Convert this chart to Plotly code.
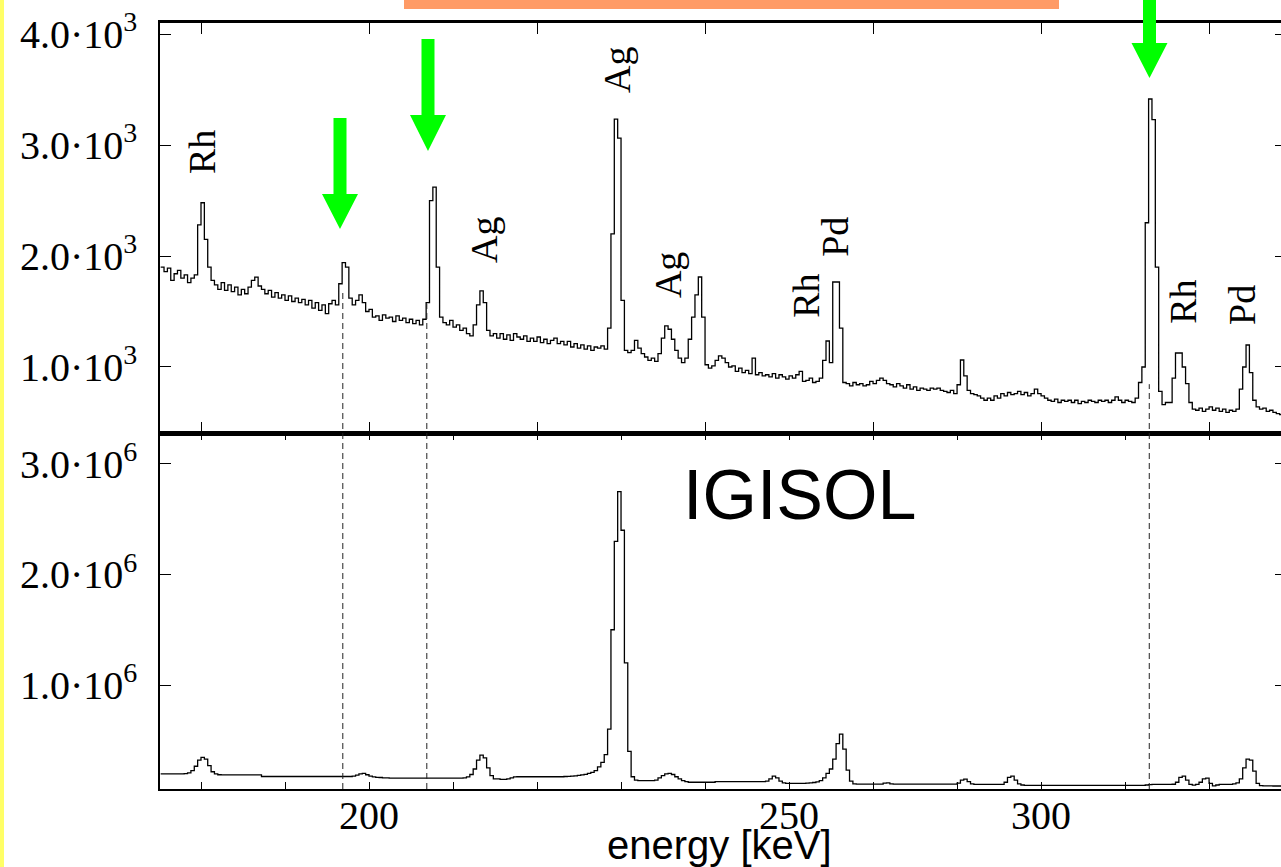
import plotly.graph_objects as go

# ---------------- data ----------------
E_START = 169.0   # keV, first bin edge
BIN = 0.5         # keV per channel

# top spectrum (counts per channel), rows of 5 keV starting at 169, 174, ...
counts_top = [
    1900, 1860, 1890, 1780, 1840, 1870, 1800, 1830, 1760, 1800,   # 169
    1830, 2280, 2480, 2150, 1900, 1780, 1740, 1700, 1760, 1690,   # 174
    1740, 1680, 1720, 1650, 1700, 1660, 1720, 1780, 1810, 1730,   # 179
    1700, 1660, 1690, 1630, 1670, 1620, 1650, 1600, 1640, 1590,   # 184
    1620, 1580, 1610, 1560, 1600, 1530, 1580, 1510, 1560, 1480,   # 189
    1570, 1600, 1560, 1750, 1940, 1900, 1620, 1560, 1600, 1650,   # 194
    1580, 1500, 1520, 1450, 1460, 1420, 1470, 1440, 1450, 1410,   # 199
    1460, 1420, 1440, 1400, 1430, 1390, 1420, 1380, 1430, 1580,   # 204
    2500, 2620, 1900, 1450, 1400, 1380, 1420, 1360, 1380, 1330,   # 209
    1350, 1300, 1280, 1380, 1560, 1685, 1580, 1330, 1280, 1300,   # 214
    1260, 1300, 1250, 1290, 1240, 1300, 1270, 1250, 1280, 1230,   # 219
    1260, 1230, 1270, 1220, 1250, 1210, 1240, 1260, 1210, 1230,   # 224
    1200, 1230, 1180, 1210, 1170, 1200, 1160, 1190, 1150, 1180,   # 229
    1170, 1190, 1160, 1350, 2200, 3234, 3063, 1600, 1150, 1130,   # 234
    1150, 1240, 1170, 1120, 1090, 1060, 1080, 1050, 1120, 1260,   # 239
    1370, 1340, 1250, 1150, 1080, 1040, 1080, 1250, 1450, 1650,   # 244
    1811, 1450, 1020, 990, 1010, 1060, 1100, 1080, 1040, 1000,    # 249
    1010, 960, 990, 950, 970, 940, 1080, 930, 950, 920,           # 254
    930, 910, 940, 900, 930, 910, 890, 920, 900, 930,             # 259
    960, 870, 880, 900, 860, 870, 900, 1060, 1234, 1040,          # 264
    1766, 1766, 1350, 860, 850, 830, 860, 840, 850, 830,          # 269
    840, 870, 850, 880, 900, 880, 850, 840, 820, 850,             # 274
    830, 810, 840, 800, 820, 790, 810, 800, 790, 810,             # 279
    800, 810, 790, 780, 770, 790, 760, 840, 1063, 920,            # 284
    790, 760, 750, 740, 720, 700, 720, 700, 740, 720,             # 289
    760, 740, 770, 750, 760, 780, 750, 770, 740, 760,             # 294
    800, 760, 740, 720, 700, 690, 710, 680, 700, 690,             # 299
    700, 680, 700, 670, 690, 680, 700, 690, 680, 700,             # 304
    690, 700, 680, 700, 730, 700, 680, 700, 690, 680,             # 309
    720, 860, 1000, 2300, 3415, 3230, 1900, 780, 660, 680,        # 314
    680, 900, 1126, 1126, 1000, 850, 680, 620, 610, 630,          # 319
    600, 620, 640, 610, 630, 600, 620, 590, 610, 600,             # 324
    620, 800, 1000, 1198, 950, 700, 640, 620, 630, 600,           # 329
    610, 590, 580, 570, 567,                                      # 334
]

# IGISOL spectrum, in thousands of counts per channel
counts_igisol_k = [
    195, 195, 195, 195, 195, 195, 195, 198, 205, 225,             # 169
    265, 320, 346, 330, 270, 215, 195, 188, 186, 186,             # 174
    186, 186, 186, 186, 186, 186, 186, 186, 186, 186,             # 179
    172, 172, 172, 172, 172, 172, 172, 172, 172, 172,             # 184
    172, 172, 172, 172, 172, 172, 172, 172, 172, 172,             # 189
    172, 172, 172, 172, 172, 172, 172, 176, 185, 196,             # 194
    200, 188, 175, 168, 165, 163, 160, 160, 158, 158,             # 199
    158, 158, 158, 158, 158, 158, 158, 158, 158, 158,             # 204
    158, 158, 158, 158, 158, 158, 158, 158, 158, 158,             # 209
    160, 168, 190, 240, 320, 366, 340, 250, 180, 150,             # 214
    150, 146, 146, 150, 160, 168, 170, 170, 170, 170,             # 219
    170, 170, 170, 170, 170, 170, 170, 170, 170, 170,             # 224
    172, 174, 176, 178, 182, 186, 192, 200, 210, 225,             # 229
    260, 300, 370, 600, 1500, 2300, 2750, 2400, 1200, 400,        # 234
    170, 140, 134, 134, 134, 134, 134, 140, 160, 180,             # 239
    195, 200, 190, 170, 150, 135, 125, 120, 120, 120,             # 244
    120, 120, 120, 120, 120, 125, 125, 125, 125, 125,             # 249
    125, 125, 125, 125, 125, 125, 125, 125, 125, 125,             # 254
    130, 150, 176, 160, 130, 115, 110, 110, 110, 110,             # 259
    110, 110, 112, 114, 118, 124, 135, 160, 200, 240,             # 264
    330, 470, 556, 420, 230, 130, 105, 104, 104, 104,             # 269
    104, 104, 104, 104, 104, 112, 115, 106, 104, 104,             # 274
    104, 104, 104, 104, 104, 104, 104, 104, 104, 104,             # 279
    104, 104, 104, 104, 104, 104, 104, 112, 140, 149,             # 284
    125, 105, 100, 100, 100, 100, 100, 100, 100, 100,             # 289
    100, 120, 165, 176, 140, 105, 95, 92, 92, 92,                 # 294
    92, 92, 92, 92, 92, 92, 92, 92, 92, 92,                       # 299
    92, 92, 92, 92, 92, 92, 92, 92, 92, 92,                       # 304
    92, 92, 92, 92, 92, 92, 92, 92, 92, 92,                       # 309
    92, 92, 92, 95, 98, 100, 100, 100, 100, 100,                  # 314
    100, 102, 120, 165, 176, 140, 100, 94, 100, 120,              # 319
    150, 158, 110, 88, 95, 100, 100, 100, 100, 105,               # 324
    115, 150, 250, 330, 320, 220, 110, 90, 88, 87,                # 329
    87, 86, 86, 86, 86,                                           # 334
]

energy = [E_START + BIN * i for i in range(len(counts_top))]

# peak labels (element, energy keV, label centre height in counts)
label_names = ["Rh", "Ag", "Ag", "Ag", "Rh", "Pd", "Rh", "Pd"]
label_energy = [175.15, 217.1, 236.9, 244.5, 265.0, 269.3, 321.1, 329.9]
label_counts = [2937, 2144, 3676, 1829, 1640, 2171, 1586, 1559]

# dashed marker lines (keV) and how high into the top panel they reach (counts)
marker_energy = [196.1, 208.6, 316.1]
marker_top_counts = [1680, 1570, 845]

x_tickvals = [175, 187.5, 200, 212.5, 225, 237.5, 250, 262.5, 275, 287.5, 300, 312.5, 325]
x_label_pos = [200, 262.5, 300]
x_label_text = ["200", "250", "300"]
top_tickvals = [1000, 2000, 3000, 4000]
top_ticktext = ["1.0·10<sup>3</sup>", "2.0·10<sup>3</sup>", "3.0·10<sup>3</sup>", "4.0·10<sup>3</sup>"]
bot_tickvals = [1000, 2000, 3000]
bot_ticktext = ["1.0·10<sup>6</sup>", "2.0·10<sup>6</sup>", "3.0·10<sup>6</sup>"]

# ---------------- layout geometry ----------------
W, H = 1281, 867
ML, MR, MT, MB = 160, 0, 23, 78
PW, PH = W - ML - MR, H - MT - MB
SPLIT = (789 - 433) / PH
XRANGE = [168.9, 335.7]
TOP_RANGE = [405, 4100]
BOT_RANGE = [59, 3280]


def pxx(x):
    return (x - ML) / PW


def pxy(y):
    return (H - MB - y) / PH


serif = "Liberation Serif, Times New Roman, serif"
sans = "Liberation Sans, Arial, sans-serif"

fig = go.Figure()
fig.add_trace(go.Scatter(x=energy, y=counts_top, mode="lines", line_shape="hv",
                         line=dict(color="black", width=1.3), xaxis="x2", yaxis="y2",
                         hoverinfo="skip"))
fig.add_trace(go.Scatter(x=energy, y=counts_igisol_k, mode="lines", line_shape="hv",
                         line=dict(color="black", width=1.3), xaxis="x", yaxis="y",
                         hoverinfo="skip"))
# helpers so that right-hand tick axes are drawn
fig.add_trace(go.Scatter(x=[None], y=[None], xaxis="x", yaxis="y3", hoverinfo="skip"))
fig.add_trace(go.Scatter(x=[None], y=[None], xaxis="x2", yaxis="y4", hoverinfo="skip"))

axis_common = dict(showgrid=False, zeroline=False, linecolor="black", tickcolor="black")

fig.update_layout(
    width=W, height=H, margin=dict(l=ML, r=MR, t=MT, b=MB),
    paper_bgcolor="white", plot_bgcolor="white", showlegend=False,
    xaxis=dict(domain=[0, 1], range=XRANGE, anchor="y", showline=True, linewidth=2,
               mirror="ticks", ticks="inside", ticklen=7, tickwidth=1.3,
               tickmode="array", tickvals=x_tickvals, showticklabels=False, **axis_common),
    xaxis2=dict(domain=[0, 1], range=XRANGE, anchor="y2", matches="x", showline=True,
                linewidth=2.5, mirror="ticks", ticks="inside", ticklen=11, tickwidth=1.3,
                tickmode="linear", tick0=175, dtick=25, showticklabels=False, **axis_common),
    yaxis=dict(domain=[0, SPLIT], range=BOT_RANGE, anchor="x", showline=True, linewidth=1.5,
               ticks="inside", ticklen=11, tickwidth=1.3, tickmode="array",
               tickvals=bot_tickvals, ticktext=bot_ticktext,
               tickfont=dict(family=serif, size=40, color="black"),
               ticklabelstandoff=13, **axis_common),
    yaxis2=dict(domain=[SPLIT, 1], range=TOP_RANGE, anchor="x2", showline=True, linewidth=1.5,
                ticks="inside", ticklen=11, tickwidth=1.3, tickmode="array",
                tickvals=top_tickvals, ticktext=top_ticktext,
                tickfont=dict(family=serif, size=40, color="black"),
                ticklabelstandoff=13, **axis_common),
    yaxis3=dict(overlaying="y", side="right", anchor="x", range=BOT_RANGE, showline=False,
                ticks="inside", ticklen=6, tickwidth=1.3, tickmode="array",
                tickvals=bot_tickvals, showticklabels=False, **axis_common),
    yaxis4=dict(overlaying="y2", side="right", anchor="x2", range=TOP_RANGE, showline=False,
                ticks="inside", ticklen=6, tickwidth=1.3, tickmode="array",
                tickvals=top_tickvals, showticklabels=False, **axis_common),
)

shapes = []
# yellow strip at the left edge
shapes.append(dict(type="rect", xref="paper", yref="paper", x0=pxx(0), x1=pxx(4),
                   y0=pxy(H), y1=pxy(0), fillcolor="#ffff66", line=dict(width=0), layer="above"))
# orange bar at the top
shapes.append(dict(type="rect", xref="paper", yref="paper", x0=pxx(404), x1=pxx(1059),
                   y0=pxy(9), y1=pxy(0), fillcolor="#ff9b66", line=dict(width=0), layer="above"))

# dashed marker lines from bottom axis up into the top panel
for e, c in zip(marker_energy, marker_top_counts):
    ytop = SPLIT + (c - TOP_RANGE[0]) / (TOP_RANGE[1] - TOP_RANGE[0]) * (1 - SPLIT)
    shapes.append(dict(type="line", xref="x", yref="paper", x0=e, x1=e, y0=0, y1=ytop,
                       line=dict(color="#222222", width=1, dash="6px,4px"), layer="above"))

# green arrows (pixel geometry: centre x, shaft top, head top, tip)
arrows = [(340, 118, 194, 229), (428, 39, 115, 151), (1149.5, -2, 43, 78)]
for cx, st, ht, tip in arrows:
    sw, hw = 6.5, 18
    pts = [(cx - sw, st), (cx + sw, st), (cx + sw, ht), (cx + hw, ht), (cx, tip),
           (cx - hw, ht), (cx - sw, ht)]
    path = "M " + " L ".join(f"{pxx(a):.5f},{pxy(b):.5f}" for a, b in pts) + " Z"
    shapes.append(dict(type="path", xref="paper", yref="paper", path=path,
                       fillcolor="#00ff00", line=dict(width=0), layer="above"))

fig.update_layout(shapes=shapes)

annotations = []
for name, e, c in zip(label_names, label_energy, label_counts):
    annotations.append(dict(x=e, y=c, xref="x2", yref="y2", text=name, showarrow=False,
                            textangle=-90, xanchor="center", yanchor="middle",
                            font=dict(family=serif, size=38, color="black")))
# x tick labels of the energy axis
for pos, txt in zip(x_label_pos, x_label_text):
    annotations.append(dict(x=pos, y=pxy(816), xref="x", yref="paper", text=txt,
                            showarrow=False, xanchor="center", yanchor="middle",
                            font=dict(family=serif, size=40, color="black")))
annotations.append(dict(x=pxx(799), y=pxy(495), xref="paper", yref="paper", text="IGISOL",
                        showarrow=False, xanchor="center", yanchor="middle",
                        font=dict(family=sans, size=70, color="black")))
annotations.append(dict(x=pxx(719), y=pxy(845), xref="paper", yref="paper", text="energy [keV]",
                        showarrow=False, xanchor="center", yanchor="middle",
                        font=dict(family=sans, size=40, color="black")))
fig.update_layout(annotations=annotations)

fig.write_html("out.html")
